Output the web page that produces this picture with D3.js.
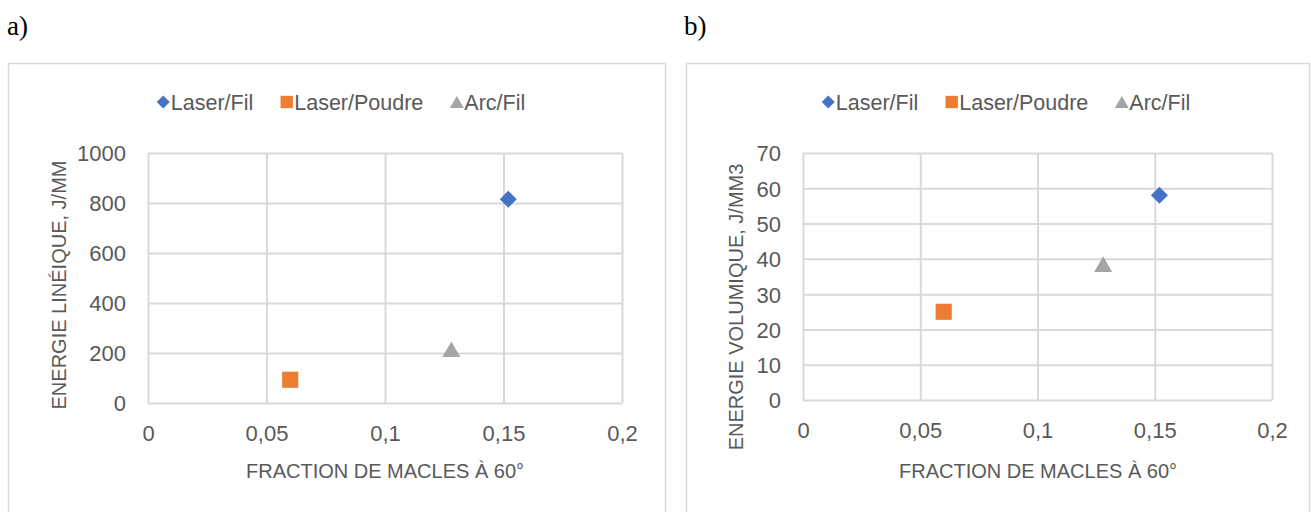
<!DOCTYPE html>
<html><head><meta charset="utf-8">
<script src="https://cdn.jsdelivr.net/npm/d3@7"></script>
<style>body{margin:0;background:#fff}svg{display:block}</style>
</head><body>
<svg id="c" width="1311" height="512"></svg>
<script>
// ---- data ----
const seriesNames = ["Laser/Fil", "Laser/Poudre", "Arc/Fil"];
const seriesColors = ["#4472C4", "#ED7D31", "#A5A5A5"];
const seriesSymbols = ["diamond", "square", "triangle"];
const fractionMacles = [0.152, 0.06, 0.128];
const energieLineique = [815, 93, 215];
const energieVolumique = [58, 25, 38.5];
const xTicks = [0, 0.05, 0.1, 0.15, 0.2];
const yTicksA = [0, 200, 400, 600, 800, 1000];
const yTicksB = [0, 10, 20, 30, 40, 50, 60, 70];
const xTitle = "FRACTION DE MACLES À 60°";
const yTitleA = "ENERGIE LINÉIQUE, J/MM";
const yTitleB = "ENERGIE VOLUMIQUE, J/MM3";

const svg = d3.select("#c");
const FONT = "'Liberation Sans', Arial, sans-serif";
const TXT = "#595959";
const GRID = "#d9d9d9";
const fmt = v => String(v).replace(".", ",");

function symPath(type, s) {
  const r = s / 2;
  if (type === "diamond") return `M0,${-r}L${r},0L0,${r}L${-r},0Z`;
  if (type === "square") { const q = r * 0.95; return `M${-q},${-q}H${q}V${q}H${-q}Z`; }
  const h = s * 0.92;
  return `M0,${-h / 2}L${s / 2 + 0.5},${h / 2}L${-s / 2 - 0.5},${h / 2}Z`;
}
function marker(g, type, size, color, x, y) {
  g.append("path").attr("d", symPath(type, size))
    .attr("transform", `translate(${x},${y})`).attr("fill", color);
}

function chart(o) {
  const g = svg.append("g");
  g.append("text").attr("x", o.labX).attr("y", 35).text(o.label)
    .attr("font-family", "'Liberation Serif', 'Times New Roman', serif")
    .attr("font-size", 27).attr("fill", "#000");
  g.append("rect").attr("x", o.boxX0 + 0.5).attr("y", 63.5)
    .attr("width", o.boxX1 - o.boxX0).attr("height", 520)
    .attr("fill", "none").attr("stroke", GRID).attr("stroke-width", 1.5);

  const x = d3.scaleLinear().domain([0, 0.2]).range([o.px0, o.px1]);
  const y = d3.scaleLinear().domain([0, o.ymax]).range([o.py0, o.py1]);

  const gx = g.append("g").attr("transform", `translate(0,${o.py0})`)
    .call(d3.axisBottom(x).tickValues(xTicks).tickSize(-(o.py0 - o.py1)).tickFormat(fmt).tickPadding(22));
  const gy = g.append("g").attr("transform", `translate(${o.px0},0)`)
    .call(d3.axisLeft(y).tickValues(o.yTicks).tickSize(-(o.px1 - o.px0)).tickFormat(fmt).tickPadding(22));
  [gx, gy].forEach(a => {
    a.select(".domain").remove();
    a.selectAll(".tick line").attr("stroke", GRID).attr("stroke-width", 2);
    a.selectAll(".tick text").attr("fill", TXT).attr("font-family", FONT).attr("font-size", 22);
  });
  gy.selectAll(".tick text").attr("dy", "0.36em");

  g.append("text").attr("x", o.xtX).attr("y", 478).attr("text-anchor", "middle")
    .text(xTitle).attr("fill", TXT).attr("font-family", FONT).attr("font-size", 20);
  g.append("text").attr("transform", `translate(${o.ytX},${o.ytY}) rotate(-90)`)
    .attr("text-anchor", "middle").text(o.yTitle)
    .attr("fill", TXT).attr("font-family", FONT).attr("font-size", 20);

  seriesNames.forEach((n, i) => {
    marker(g, seriesSymbols[i], 17, seriesColors[i], x(fractionMacles[i]), y(o.values[i]));
  });

  const lg = g.append("g");
  let cx = 0;
  seriesNames.forEach((n, i) => {
    marker(lg, seriesSymbols[i], 13, seriesColors[i], cx + 6.5, 0);
    const t = lg.append("text").attr("x", cx + 14).attr("y", 0).attr("dy", "0.36em").text(n)
      .attr("fill", TXT).attr("font-family", FONT).attr("font-size", 21.5);
    cx += 14 + t.node().getComputedTextLength() + 27;
  });
  const w = cx - 27;
  lg.attr("transform", `translate(${o.legCenter - w / 2},102)`);
}

chart({label: "a)", labX: 7, boxX0: 8, boxX1: 665, px0: 148, px1: 622, py0: 403, py1: 153,
  ymax: 1000, yTicks: yTicksA, values: energieLineique, yTitle: yTitleA,
  xtX: 385, ytX: 66, ytY: 285, legCenter: 341});
chart({label: "b)", labX: 684, boxX0: 686, boxX1: 1309, px0: 803, px1: 1272, py0: 400, py1: 153,
  ymax: 70, yTicks: yTicksB, values: energieVolumique, yTitle: yTitleB,
  xtX: 1038, ytX: 743, ytY: 307, legCenter: 1006});
</script>
</body></html>
